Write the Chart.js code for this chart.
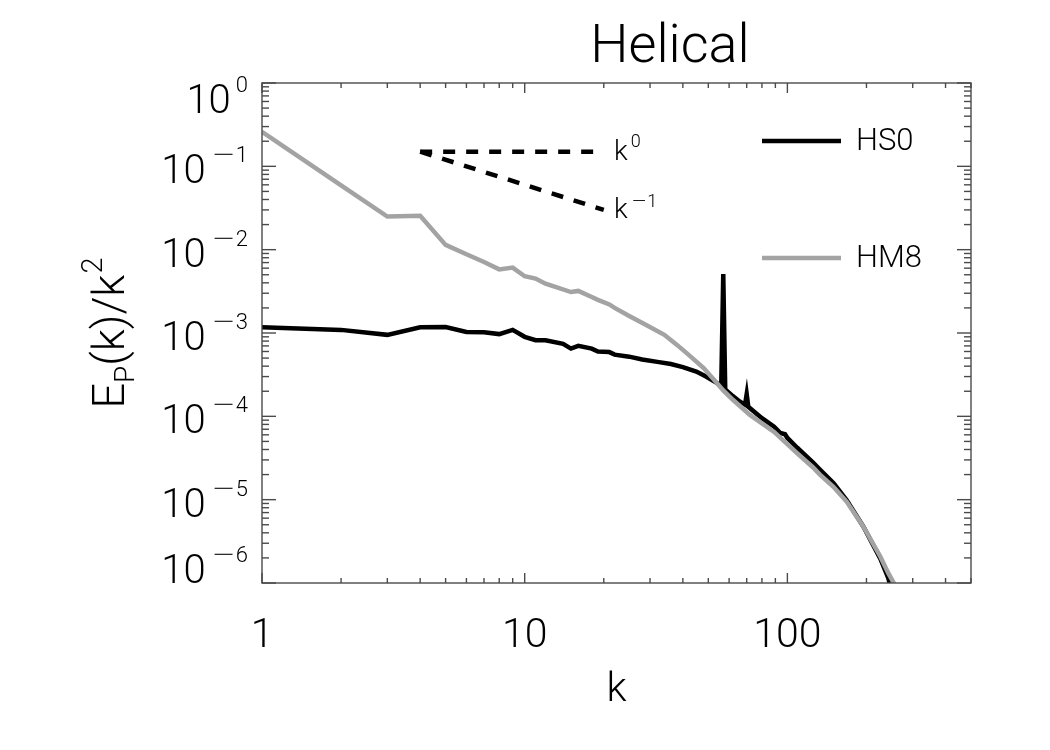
<!DOCTYPE html>
<html lang="en">
<head>
<meta charset="UTF-8">
<title>Helical</title>
<style>
  body { margin: 0; background: #ffffff; }
  #wrap { width: 1050px; height: 750px; }
</style>
</head>
<body>
<div id="wrap"><canvas id="spectrum" width="1050" height="750"></canvas></div>
<script src="https://cdn.jsdelivr.net/npm/chart.js"></script>
<script>
// HS0 (black) spectrum
const hs0K = [1, 2, 3, 4, 5, 6, 7, 8, 9, 10, 11, 12, 14, 15, 16, 18, 19, 21, 22, 25, 28, 32, 36, 40, 45, 49, 54, 56, 57, 58, 62, 66, 69, 70, 71, 80, 89, 94, 98, 100, 109, 125, 133, 150, 168, 195, 226, 242, 262];
const hs0E = [1.17e-3, 1.09e-3, 9.5e-4, 1.17e-3, 1.18e-3, 1.03e-3, 1.02e-3, 9.7e-4, 1.09e-3, 9.0e-4, 8.2e-4, 8.2e-4, 7.4e-4, 6.5e-4, 7.0e-4, 6.5e-4, 6.0e-4, 5.9e-4, 5.5e-4, 5.2e-4, 4.8e-4, 4.5e-4, 4.25e-4, 3.9e-4, 3.45e-4, 3.0e-4, 2.5e-4, 2.3e-4, 5.1e-3, 2.1e-4, 1.75e-4, 1.5e-4, 1.38e-4, 1.85e-4, 1.3e-4, 9.5e-5, 7.5e-5, 6.3e-5, 6.1e-5, 5.5e-5, 4.2e-5, 2.8e-5, 2.3e-5, 1.57e-5, 9.9e-6, 4.7e-6, 1.95e-6, 1.15e-6, 4.5e-7];

// HM8 (grey) spectrum
const hm8K = [1, 2, 3, 4, 5, 6, 7, 8, 9, 10, 11, 12, 13, 15, 16, 18, 19, 21, 22, 25, 29, 34, 38, 42, 48, 54, 57, 62, 72, 89, 109, 125, 133, 150, 168, 195, 226, 242, 254, 270];
const hm8E = [0.26, 0.059, 0.025, 0.0255, 0.0114, 0.0088, 0.0071, 0.0058, 0.0061, 0.0048, 0.0045, 0.0039, 0.0036, 0.0031, 0.0032, 0.0027, 0.0025, 0.0022, 0.0020, 0.00160, 0.00125, 0.00095, 0.00072, 0.00055, 0.00038, 0.00025, 0.000205, 0.000158, 0.000104, 0.000065, 0.000036, 0.0000245, 0.0000200, 0.0000142, 0.0000095, 0.0000047, 0.00000207, 0.00000132, 0.000001, 0.0000006];

// reference slopes k^0 and k^-1
const slopeK = [4, 20];
const slopeK0 = [0.15, 0.15];
const slopeK1 = [0.15, 0.03];

const xTickLabels = ['1', '10', '100'];
const xTickValues = [1, 10, 100];
const yTickExps = [0, -1, -2, -3, -4, -5, -6];

const FONT = 'Roboto';
const GREY = '#a3a3a3';

function pts(ks, vs) {
    return ks.map((k, i) => ({ x: k, y: vs[i] }));
}

function fontStr(size) {
    return '300 ' + size + 'px ' + FONT + ', "DejaVu Sans", sans-serif';
}

function richWidth(ctx, parts) {
    let w = 0;
    for (const p of parts) {
        ctx.font = fontStr(p.size);
        w += ctx.measureText(p.t).width * (p.sx || 1) + (p.gap || 0);
    }
    return w;
}

// draws a run of text pieces (sub/superscripts), sx stretches a piece sideways
function drawRich(ctx, parts, x, y, align) {
    let cx = x;
    if (align === 'right') cx = x - richWidth(ctx, parts);
    if (align === 'center') cx = x - richWidth(ctx, parts) / 2;
    ctx.textAlign = 'left';
    ctx.textBaseline = 'alphabetic';
    for (const p of parts) {
        ctx.font = fontStr(p.size);
        cx += p.gap || 0;
        const sx = p.sx || 1;
        ctx.save();
        ctx.translate(cx, y + (p.dy || 0));
        ctx.scale(sx, 1);
        ctx.fillText(p.t, 0, 0);
        ctx.restore();
        cx += ctx.measureText(p.t).width * sx;
    }
}

function supParts(exp, size) {
    if (exp === 0) return [{ t: '0', size: size }];
    return [{ t: '\u2212', size: size, sx: 2.0 }, { t: String(-exp), size: size }];
}

function line(ctx, x1, y1, x2, y2) {
    ctx.beginPath();
    ctx.moveTo(x1, y1);
    ctx.lineTo(x2, y2);
    ctx.stroke();
}

// frame, inward ticks, labels, legend - IDL style
const idlFrame = {
    id: 'idlFrame',
    afterDraw(chart) {
        const ctx = chart.ctx;
        const a = chart.chartArea;
        const xs = chart.scales.x;
        const ys = chart.scales.y;
        ctx.save();

        ctx.strokeStyle = '#4a4a4a';
        ctx.lineWidth = 1.4;
        ctx.strokeRect(a.left, a.top, a.right - a.left, a.bottom - a.top);

        // x ticks, top and bottom
        for (let d = 1; d <= 100; d *= 10) {
            for (let m = 1; m <= 9; m++) {
                const v = d * m;
                if (v > xs.max) continue;
                const px = xs.getPixelForValue(v);
                const len = m === 1 ? 10 : 5;
                line(ctx, px, a.bottom, px, a.bottom - len);
                line(ctx, px, a.top, px, a.top + len);
            }
        }
        // y ticks, left and right
        for (const e of yTickExps) {
            for (let m = 1; m <= 9; m++) {
                const v = m * Math.pow(10, e);
                if (v > ys.max || v < ys.min) continue;
                const py = ys.getPixelForValue(v);
                const len = m === 1 ? 14 : 7;
                line(ctx, a.left, py, a.left + len, py);
                line(ctx, a.right, py, a.right - len, py);
            }
        }

        ctx.fillStyle = '#000';

        // x tick labels
        ctx.font = fontStr(41);
        ctx.textAlign = 'center';
        ctx.textBaseline = 'alphabetic';
        xTickValues.forEach((v, i) => {
            ctx.fillText(xTickLabels[i], xs.getPixelForValue(v), a.bottom + 64);
        });

        // y tick labels 10^n
        for (const e of yTickExps) {
            const py = ys.getPixelForValue(Math.pow(10, e));
            const base = Math.min(Math.max(py + 17, a.top + 30), a.bottom);
            const sup = supParts(e, 22).map(p => Object.assign({ dy: -21 }, p));
            sup[0].gap = 5;
            drawRich(ctx, [{ t: '10', size: 40 }].concat(sup), 248, base, 'right');
        }

        // axis titles
        ctx.font = fontStr(41);
        ctx.textAlign = 'center';
        ctx.fillText('k', (a.left + a.right) / 2, 701);

        ctx.save();
        ctx.translate(124, (a.top + a.bottom) / 2);
        ctx.rotate(-Math.PI / 2);
        drawRich(ctx, [
            { t: 'E', size: 45 },
            { t: 'P', size: 28, dy: 10 },
            { t: '(k)/k', size: 45 },
            { t: '2', size: 29, dy: -22, gap: 1 }
        ], 0, 0, 'center');
        ctx.restore();

        // title
        ctx.font = fontStr(54);
        ctx.textAlign = 'center';
        ctx.fillText('Helical', 670, 62);

        // slope labels
        drawRich(ctx, [{ t: 'k', size: 28 }, { t: '0', size: 18, dy: -13, gap: 3 }], 614, 160, 'left');
        drawRich(ctx, [{ t: 'k', size: 28 }, { t: '\u2212', size: 18, dy: -11, gap: 3, sx: 1.6 }, { t: '1', size: 18, dy: -11 }], 614, 218, 'left');

        // legend
        const legend = [
            { ds: chart.data.datasets[0], y: 141 },
            { ds: chart.data.datasets[1], y: 258 }
        ];
        for (const item of legend) {
            ctx.strokeStyle = item.ds.borderColor;
            ctx.lineWidth = 4.5;
            line(ctx, 762, item.y, 841, item.y);
            ctx.fillStyle = '#000';
            ctx.font = fontStr(31);
            ctx.textAlign = 'left';
            ctx.fillText(item.ds.label, 856, item.y + 9);
        }

        ctx.restore();
    }
};

new Chart(document.getElementById('spectrum'), {
    type: 'line',
    data: {
        datasets: [
            {
                label: 'HS0',
                data: pts(hs0K, hs0E),
                borderColor: '#000000',
                borderWidth: 4.5,
                order: 2
            },
            {
                label: 'HM8',
                data: pts(hm8K, hm8E),
                borderColor: GREY,
                borderWidth: 4.5,
                order: 1
            },
            {
                label: 'k^0',
                data: pts(slopeK, slopeK0),
                borderColor: '#000000',
                borderWidth: 4.5,
                borderDash: [12, 11],
                order: 0
            },
            {
                label: 'k^-1',
                data: pts(slopeK, slopeK1),
                borderColor: '#000000',
                borderWidth: 4.5,
                borderDash: [12, 11],
                order: 0
            }
        ]
    },
    options: {
        responsive: false,
        devicePixelRatio: 1,
        animation: false,
        layout: { padding: { left: 262, right: 79, top: 83, bottom: 167 } },
        elements: {
            point: { radius: 0 },
            line: { tension: 0, fill: false }
        },
        datasets: { line: { clip: 0 } },
        scales: {
            x: { type: 'logarithmic', min: 1, max: 500, display: false },
            y: { type: 'logarithmic', min: 1e-6, max: 1, display: false }
        },
        plugins: {
            legend: { display: false },
            tooltip: { enabled: false }
        }
    },
    plugins: [idlFrame]
});
</script>
</body>
</html>
